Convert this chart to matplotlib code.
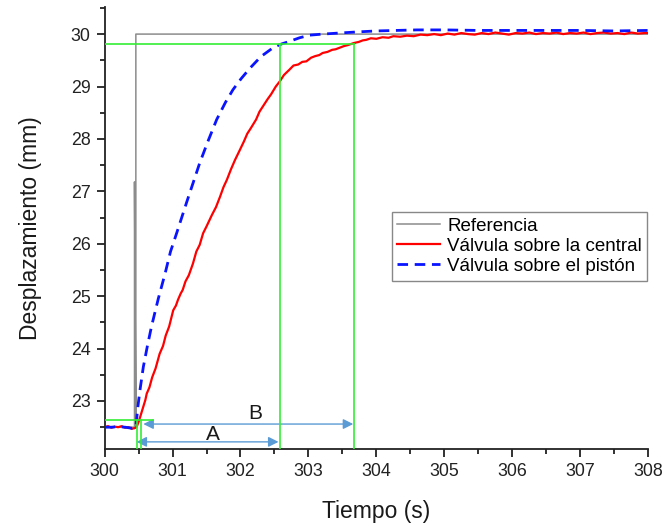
import matplotlib.pyplot as plt

plt.rcParams['font.family'] = ['Liberation Sans', 'DejaVu Sans']

# Reference step input
ref_t = [300.0, 300.44, 300.44, 300.46, 300.46, 308.0]
ref_y = [22.5, 22.5, 27.18, 22.5, 30.0, 30.0]

# Valve on the main line (measured, noisy)
central_t = [300.00, 300.05, 300.10, 300.15, 300.20, 300.25, 300.30, 300.35, 300.40, 300.44,
             300.47, 300.50, 300.52, 300.56, 300.60, 300.62, 300.66, 300.70, 300.75, 300.81,
             300.86, 300.90, 300.95, 301.01, 301.05, 301.08, 301.12, 301.15, 301.19, 301.24,
             301.30, 301.35, 301.40, 301.45, 301.50, 301.58, 301.64, 301.70, 301.75, 301.80,
             301.86, 301.92, 301.98, 302.05, 302.10, 302.15, 302.23, 302.28, 302.33, 302.40,
             302.45, 302.52, 302.58, 302.64, 302.72, 302.78, 302.85, 302.91, 302.97, 303.04,
             303.10, 303.16, 303.21, 303.28, 303.35, 303.40, 303.46, 303.52, 303.58, 303.67,
             303.74, 303.80, 303.85, 303.92, 304.00, 304.09, 304.18, 304.25, 304.35, 304.45,
             304.55, 304.65, 304.75, 304.85, 304.95, 305.05, 305.15, 305.25, 305.35, 305.45,
             305.55, 305.65, 305.75, 305.85, 305.95, 306.05, 306.15, 306.25, 306.35, 306.45,
             306.55, 306.65, 306.75, 306.85, 306.95, 307.05, 307.15, 307.25, 307.35, 307.45,
             307.55, 307.65, 307.75, 307.85, 307.95, 308.00]
central_y = [22.50, 22.52, 22.49, 22.51, 22.50, 22.52, 22.49, 22.50, 22.47, 22.48,
             22.50, 22.60, 22.68, 22.85, 23.02, 23.14, 23.26, 23.45, 23.62, 23.90,
             24.05, 24.25, 24.42, 24.73, 24.82, 24.93, 25.05, 25.12, 25.28, 25.40,
             25.62, 25.85, 25.98, 26.20, 26.33, 26.55, 26.70, 26.90, 27.08, 27.22,
             27.42, 27.60, 27.76, 27.95, 28.10, 28.20, 28.37, 28.52, 28.62, 28.76,
             28.85, 29.00, 29.10, 29.22, 29.32, 29.40, 29.42, 29.47, 29.48, 29.55,
             29.58, 29.60, 29.64, 29.66, 29.70, 29.71, 29.74, 29.77, 29.79, 29.83,
             29.85, 29.88, 29.89, 29.92, 29.91, 29.94, 29.93, 29.96, 29.95, 29.97,
             29.96, 29.99, 29.98, 30.00, 29.98, 30.01, 29.99, 30.02, 30.00, 29.99,
             30.02, 30.00, 30.03, 30.01, 29.99, 30.02, 30.01, 30.03, 30.00, 30.02,
             30.01, 30.03, 30.00, 30.02, 30.01, 30.03, 30.00, 30.02, 30.03, 30.01,
             30.02, 30.00, 30.03, 30.01, 30.02, 30.02]

# Valve on the piston
piston_t = [300.00, 300.10, 300.20, 300.30, 300.40, 300.46, 300.49, 300.52, 300.57, 300.63,
            300.69, 300.79, 300.89, 300.97, 301.06, 301.21, 301.40, 301.52, 301.65, 301.78,
            301.89, 302.01, 302.14, 302.30, 302.48, 302.60, 302.72, 302.87, 303.02, 303.21,
            303.45, 303.70, 304.00, 304.30, 304.60, 305.00, 305.50, 306.00, 306.50, 307.00,
            307.50, 308.00]
piston_y = [22.50, 22.50, 22.51, 22.50, 22.48, 22.50, 22.89, 23.20, 23.65, 24.05,
            24.42, 24.95, 25.43, 25.85, 26.20, 26.80, 27.54, 27.95, 28.37, 28.70,
            28.94, 29.15, 29.35, 29.57, 29.74, 29.81, 29.86, 29.93, 29.98, 30.00,
            30.02, 30.04, 30.06, 30.07, 30.08, 30.08, 30.07, 30.07, 30.07, 30.07,
            30.06, 30.07]

# Guide lines for the 98% settling times
settle_level = 29.82
start_level = 22.63
t_start = [300.475, 300.53]
t_settle = [302.58, 303.67]

fig = plt.figure(figsize=(6.62, 5.26), dpi=100)
ax = fig.add_axes([0.158, 0.146, 0.821, 0.841])

ax.plot(ref_t, ref_y, color='#8c8c8c', lw=1.1, label='Referencia', zorder=3)
ax.plot(central_t, central_y, color='#ff0000', lw=1.6, label='Válvula sobre la central', zorder=4)
ax.plot(piston_t, piston_y, color='#0a14ff', lw=2.0, dashes=(3.8, 2.4),
        label='Válvula sobre el pistón', zorder=5)

ymin, ymax = 22.08, 30.52
green = '#33ee33'
ax.plot([300.0, t_settle[1]], [settle_level, settle_level], color=green, lw=1.2, zorder=6)
for t in t_settle:
    ax.plot([t, t], [ymin, settle_level], color=green, lw=1.2, zorder=6)
ax.plot([300.0, 300.71], [start_level, start_level], color=green, lw=1.2, zorder=6)
for t in t_start:
    ax.plot([t, t], [ymin, start_level], color=green, lw=1.2, zorder=6)

# Double-headed arrows for the response times
arrow_kw = dict(arrowstyle='<|-|>', color='#5b9bd5', lw=1.0, mutation_scale=15,
                shrinkA=0, shrinkB=0)
ax.annotate('', xy=(302.56, 22.22), xytext=(300.47, 22.22), arrowprops=arrow_kw)
ax.annotate('', xy=(303.66, 22.56), xytext=(300.57, 22.56), arrowprops=arrow_kw)
ax.text(301.59, 22.37, 'A', fontsize=15, ha='center', va='center', color='#1a1a1a')
ax.text(302.22, 22.77, 'B', fontsize=15, ha='center', va='center', color='#1a1a1a')

ax.set_xlim(300, 308)
ax.set_ylim(ymin, ymax)
ax.set_xticks(range(300, 309))
ax.set_yticks(range(23, 31))
ax.set_xticks([300.5 + i for i in range(8)], minor=True)
ax.set_yticks([22.5 + i for i in range(9)], minor=True)

for side in ['top', 'right']:
    ax.spines[side].set_visible(False)
for side in ['left', 'bottom']:
    ax.spines[side].set_linewidth(1.3)
    ax.spines[side].set_color('#222222')
ax.tick_params(which='major', direction='out', length=6, width=1.3, labelsize=12.8,
               pad=4, color='#222222', labelcolor='#222222')
ax.tick_params(which='minor', direction='out', length=3.5, width=1.3, color='#222222')

ax.set_xlabel('Tiempo (s)', fontsize=16.5, labelpad=14, color='#1a1a1a')
ax.set_ylabel('Desplazamiento (mm)', fontsize=16.5, labelpad=21, color='#1a1a1a')

leg = ax.legend(loc='upper left', bbox_to_anchor=(391.7 / 662, 1 - 212.3 / 526),
                bbox_transform=fig.transFigure, fontsize=13.5, frameon=True, fancybox=False,
                edgecolor='#888888', framealpha=1, borderaxespad=0, borderpad=0.3,
                labelspacing=0.15, handlelength=2.3, handletextpad=0.35)
leg.get_frame().set_linewidth(1.0)

fig.savefig('out.png', dpi=100)
